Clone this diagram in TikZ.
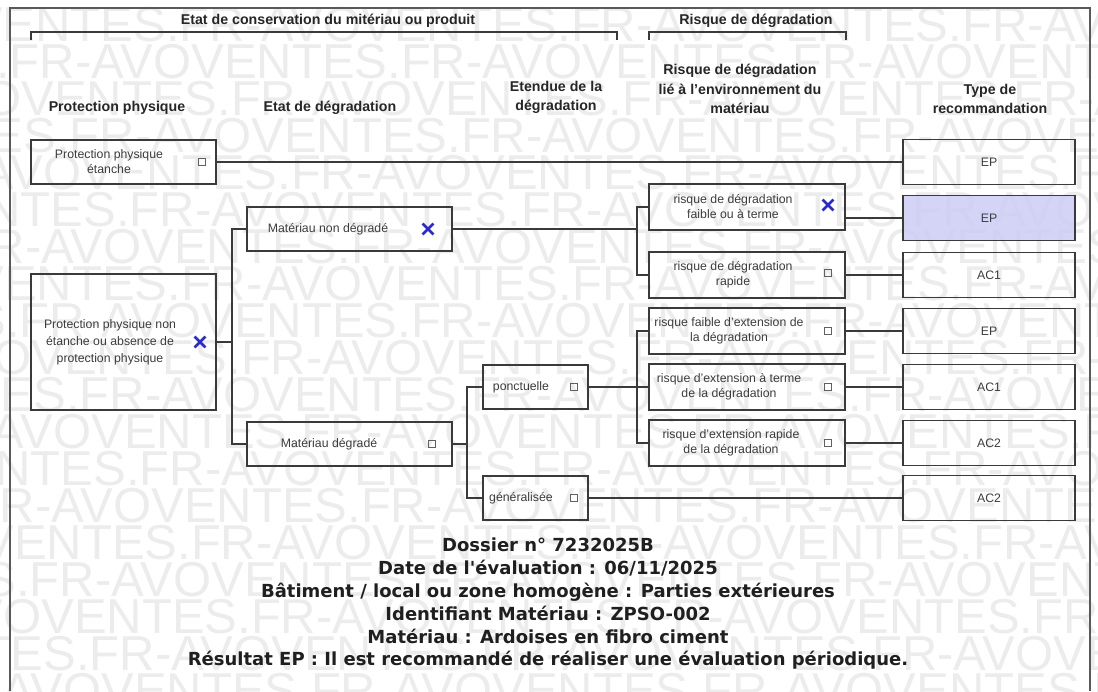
\documentclass[tikz,border=0pt]{standalone}
\usepackage{fontspec}
\setmainfont{Liberation Sans}
\newfontfamily\botfont{DejaVu Sans}
\newfontfamily\wmfont{Liberation Sans}
\usetikzlibrary{shapes.misc}
\definecolor{lc}{HTML}{3A3A3A}
\definecolor{tc}{HTML}{3C3C3C}
\definecolor{hc}{HTML}{262626}
\definecolor{lav}{HTML}{CDCDF5}
\definecolor{xblue}{HTML}{2A2ACC}
\definecolor{wmc}{HTML}{ECECEC}
\begin{document}
\begin{tikzpicture}[x=1pt,y=-1pt,
  box/.style={draw=lc, line width=1.8pt, inner sep=0pt},
  stdbox/.style={box, minimum width=185pt, minimum height=44pt},
  midbox/.style={box, minimum width=205pt, minimum height=44pt},
  smallbox/.style={box, minimum width=105pt, minimum height=44pt},
  riskbox/.style={box, minimum width=196pt, minimum height=46pt},
  typebox/.style={box, minimum width=172pt, minimum height=45pt},
  btxt/.style={font=\fontsize{12.3}{15}\selectfont, text=tc, align=center, inner sep=0pt},
  hdr/.style={font=\fontsize{14.2}{19.5}\selectfont\bfseries, text=hc, align=center, inner sep=0pt},
  chk/.style={draw=gray!75!black, line width=0.9pt, minimum size=7.5pt, inner sep=0pt},
  xmark/.style={draw=xblue, cross out, line width=2.8pt, minimum size=8pt, inner sep=0pt},
  conn/.style={draw=lc, line width=1.8pt},
  wm/.style={font=\fontsize{49}{49}\wmfont, text=wmc, inner sep=0pt, anchor=west}
]
\useasboundingbox (0,0) rectangle (1098,691);
% watermark
\begin{scope}
\clip (0,0) rectangle (1098,691);
\foreach \k in {0,...,18}{
  \pgfmathsetmacro{\xo}{-mod(\k*170,400)-30}
  \node[wm] (wm\k) at (\xo, 25+37*\k) {VENTES.FR-AVOVENTES.FR-AVOVENTES.FR-AVOVENTES.FR-AVO};
}
\end{scope}
% frame
\draw[draw=gray!70!black, line width=1.2pt] (10,691) -- (10,8) -- (1090,8) -- (1090,691);
% header brackets
\draw[conn] (31,40) -- (31,32) -- (617,32) -- (617,40);
\draw[conn] (649,40) -- (649,32) -- (846,32) -- (846,40);
\node[hdr] (h1) at (328,21) {Etat de conservation du mitériau ou produit};
\node[hdr] (h2) at (756,21) {Risque de dégradation};
\node[hdr] (c1) at (117,108) {Protection physique};
\node[hdr] (c2) at (330,108) {Etat de dégradation};
\node[hdr, anchor=south] (c3) at (556,114) {Etendue de la\\dégradation};
\node[hdr, anchor=south] (c4) at (740,114) {Risque de dégradation\\lié à l'environnement du\\matériau};
\node[hdr, anchor=south] (c5) at (990,114) {Type de\\recommandation};
% boxes
\node[stdbox] (pe) at (123.5,162) {};
\node[box, minimum width=185pt, minimum height=136pt] (pne) at (123.5,342) {};
\node[midbox] (mnd) at (349.5,229) {};
\node[midbox] (md) at (349.5,444) {};
\node[smallbox] (pon) at (535.5,387) {};
\node[smallbox] (gen) at (535.5,498) {};
\node[riskbox] (r1) at (747,207) {};
\node[riskbox] (r2) at (747,275) {};
\node[riskbox] (r3) at (747,331) {};
\node[riskbox] (r4) at (747,387) {};
\node[riskbox] (r5) at (747,443) {};
\node[typebox] (t1) at (989,162) {};
\node[typebox, fill=lav, fill opacity=0.85] (t2) at (989,218) {};
\node[typebox] (t3) at (989,275) {};
\node[typebox] (t4) at (989,331) {};
\node[typebox] (t5) at (989,387) {};
\node[typebox] (t6) at (989,443) {};
\node[typebox] (t7) at (989,498) {};
% box texts
\node[btxt] (pet) at (109,162) {Protection physique\\étanche};
\node[btxt, font=\fontsize{12.3}{17}\selectfont] (pnet) at (110,342) {Protection physique non\\étanche ou absence de\\protection physique};
\node[btxt] (mndt) at (328,229) {Matériau non dégradé};
\node[btxt] (mdt) at (329,444) {Matériau dégradé};
\node[btxt] (pont) at (521,387) {ponctuelle};
\node[btxt] (gent) at (521,498) {généralisée};
\node[btxt] (r1t) at (733,207) {risque de dégradation\\faible ou à terme};
\node[btxt] (r2t) at (733,275) {risque de dégradation\\rapide};
\node[btxt] (r3t) at (729,331) {risque faible d'extension de\\la dégradation};
\node[btxt] (r4t) at (729,387) {risque d'extension à terme\\de la dégradation};
\node[btxt] (r5t) at (731,443) {risque d'extension rapide\\de la dégradation};
\node[btxt] (t1t) at (t1) {EP};
\node[btxt] (t2t) at (t2) {EP};
\node[btxt] (t3t) at (t3) {AC1};
\node[btxt] (t4t) at (t4) {EP};
\node[btxt] (t5t) at (t5) {AC1};
\node[btxt] (t6t) at (t6) {AC2};
\node[btxt] (t7t) at (t7) {AC2};
% marks
\node[chk] (pec) at (202,162) {};
\node[xmark] (pnex) at (200,342) {};
\node[xmark] (mndx) at (428,229) {};
\node[chk] (mdc) at (432,444) {};
\node[chk] (ponc) at (574,387) {};
\node[chk] (genc) at (574,498) {};
\node[xmark] (r1x) at (828,205) {};
\node[chk] (r2c) at (828,273) {};
\node[chk] (r3c) at (828,331) {};
\node[chk] (r4c) at (828,387) {};
\node[chk] (r5c) at (828,443) {};
% spine coordinates
\coordinate (s1) at (232,0);
\coordinate (s2) at (637,0);
\coordinate (s4) at (467,0);
% connectors
\draw[conn] (pe.east) -- (t1.west);
\draw[conn] (pne.east) -- (pne.east -| s1);
\draw[conn] (mnd.west) -- (mnd.west -| s1) -- (md.west -| s1) -- (md.west);
\draw[conn] (mnd.east) -- (mnd.east -| s2);
\draw[conn] (r1.west) -- (r1.west -| s2) -- (r2.west -| s2) -- (r2.west);
\draw[conn] (md.east) -- (md.east -| s4);
\draw[conn] (pon.west) -- (pon.west -| s4) -- (gen.west -| s4) -- (gen.west);
\draw[conn] (pon.east) -- (r4.west);
\draw[conn] (r3.west) -- (r3.west -| s2) -- (r5.west -| s2) -- (r5.west);
\draw[conn] (t2.west -| r1.east) -- (t2.west);
\draw[conn] (r2.east) -- (t3.west);
\draw[conn] (r3.east) -- (t4.west);
\draw[conn] (r4.east) -- (t5.west);
\draw[conn] (r5.east) -- (t6.west);
\draw[conn] (gen.east) -- (t7.west);
% bottom text
\node[font=\fontsize{18}{22.8}\botfont\bfseries, text=black!88, align=center, inner sep=0pt] (res) at (548,604)
 {Dossier n° 7232025B\\Date de l'évaluation : 06/11/2025\\Bâtiment / local ou zone homogène : Parties extérieures\\Identifiant Matériau : ZPSO-002\\Matériau : Ardoises en fibro ciment\\Résultat EP : Il est recommandé de réaliser une évaluation périodique.};
\end{tikzpicture}
\end{document}
